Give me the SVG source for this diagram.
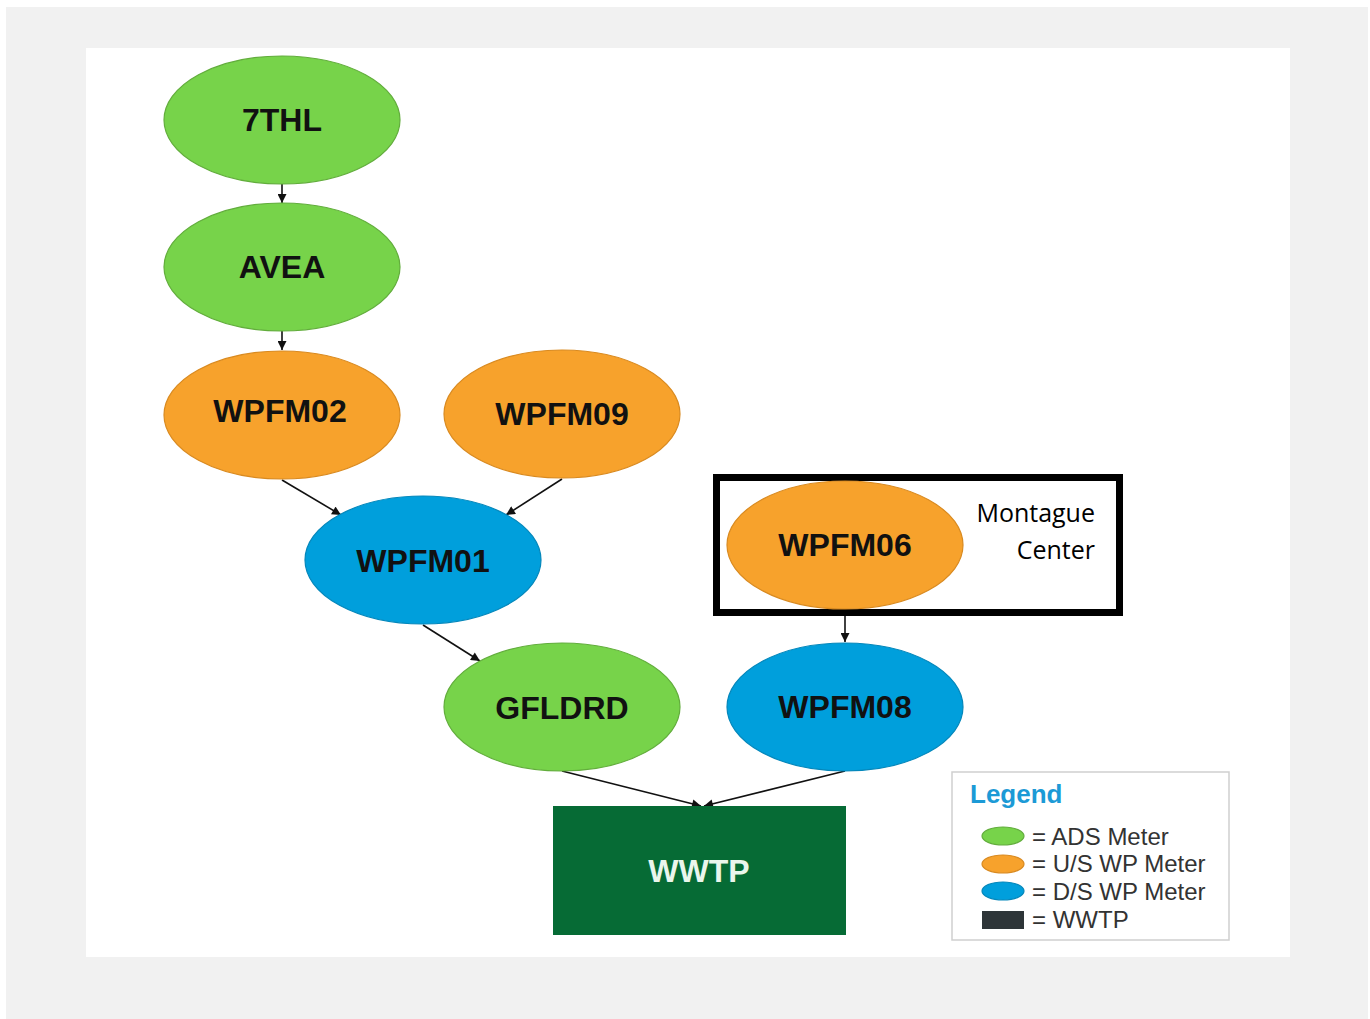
<svg xmlns="http://www.w3.org/2000/svg" width="1370" height="1019" viewBox="0 0 1370 1019">
<style>
.lbl{font-family:"Liberation Sans",Arial,sans-serif;font-weight:bold;font-size:32px;fill:#111;text-anchor:middle}
.ads{fill:#77d34a;stroke:#62ad3c;stroke-width:1.2}
.us{fill:#f7a22c;stroke:#d98a20;stroke-width:1.2}
.ds{fill:#009fdc;stroke:#0487bb;stroke-width:1.2}
.con{stroke:#111;stroke-width:1.6;fill:none;marker-end:url(#ah)}
.leg{font-family:"Liberation Sans",Arial,sans-serif;font-size:24px;fill:#333}
</style>
<defs>
<marker id="ah" viewBox="0 0 10 10" refX="10" refY="5" markerWidth="10" markerHeight="9" markerUnits="userSpaceOnUse" orient="auto">
<path d="M0,0 L10,5 L0,10 z" fill="#111"/>
</marker>
</defs>
<rect x="0" y="0" width="1370" height="1019" fill="#fff"/>
<rect x="6" y="7" width="1362" height="1012" fill="#f1f1f1"/>
<rect x="86" y="48" width="1204" height="909" fill="#fff"/>

<g id="connectors">
<line class="con" x1="282" y1="184" x2="282" y2="203"/>
<line class="con" x1="282" y1="331" x2="282" y2="350"/>
<line class="con" x1="282" y1="480" x2="341" y2="515"/>
<line class="con" x1="562" y1="479" x2="506" y2="515"/>
<line class="con" x1="423" y1="625" x2="480" y2="661"/>
<line class="con" x1="845" y1="614" x2="845" y2="642"/>
<line class="con" x1="562" y1="771" x2="701" y2="806"/>
<line class="con" x1="845" y1="771" x2="704" y2="806"/>
</g>

<g id="n7THL"><ellipse class="ads" cx="282" cy="120" rx="118" ry="64"/><text class="lbl" x="282" y="131">7THL</text></g>
<g id="nAVEA"><ellipse class="ads" cx="282" cy="267" rx="118" ry="64"/><text class="lbl" x="282" y="278">AVEA</text></g>
<g id="nWPFM02"><ellipse class="us" cx="282" cy="415" rx="118" ry="64"/><text class="lbl" x="280" y="422">WPFM02</text></g>
<g id="nWPFM09"><ellipse class="us" cx="562" cy="414" rx="118" ry="64"/><text class="lbl" x="562" y="425">WPFM09</text></g>
<g id="nWPFM01"><ellipse class="ds" cx="423" cy="560" rx="118" ry="64"/><text class="lbl" x="423" y="572">WPFM01</text></g>
<g id="nGFLDRD"><ellipse class="ads" cx="562" cy="707" rx="118" ry="64"/><text class="lbl" x="562" y="719">GFLDRD</text></g>
<g id="nMontague">
<rect x="716.5" y="477.5" width="403" height="135" fill="none" stroke="#000" stroke-width="7"/>
<ellipse class="us" cx="845" cy="545" rx="118" ry="64"/><text class="lbl" x="845" y="556">WPFM06</text>
<text x="1095" y="522" font-family="'Open Sans','Liberation Sans',sans-serif" font-size="25" fill="#000" text-anchor="end">Montague</text>
<text x="1095" y="559" font-family="'Open Sans','Liberation Sans',sans-serif" font-size="25" fill="#000" text-anchor="end">Center</text>
</g>
<g id="nWPFM08"><ellipse class="ds" cx="845" cy="707" rx="118" ry="64"/><text class="lbl" x="845" y="718">WPFM08</text></g>
<g id="nWWTP"><rect x="553" y="806" width="293" height="129" fill="#066b35"/><text class="lbl" x="699" y="882" style="fill:#eaf6ec">WWTP</text></g>

<g id="legend">
<rect x="952" y="772" width="277" height="168" fill="#fff" stroke="#cfcfcf" stroke-width="1.5"/>
<text x="970" y="803" font-family="'Liberation Sans',Arial,sans-serif" font-weight="bold" font-size="26" fill="#1c9ad6">Legend</text>
<ellipse class="ads" cx="1003" cy="836" rx="21" ry="9"/>
<ellipse class="us" cx="1003" cy="864" rx="21" ry="9"/>
<ellipse class="ds" cx="1003" cy="891" rx="21" ry="9"/>
<rect x="982" y="911" width="42" height="18" fill="#2e3538"/>
<text class="leg" x="1032" y="845">= ADS Meter</text>
<text class="leg" x="1032" y="872">= U/S WP Meter</text>
<text class="leg" x="1032" y="900">= D/S WP Meter</text>
<text class="leg" x="1032" y="928">= WWTP</text>
</g>
</svg>
